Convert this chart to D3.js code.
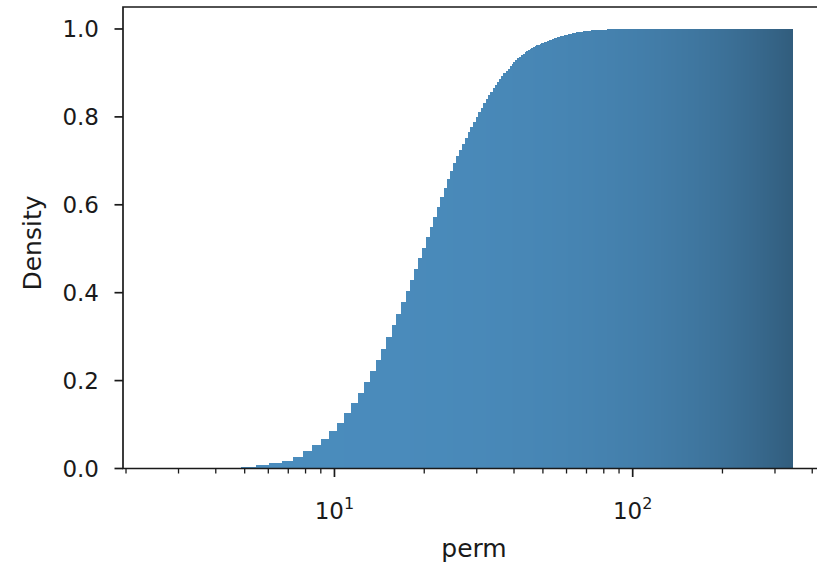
<!DOCTYPE html>
<html>
<head>
<meta charset="utf-8">
<script src="https://cdn.jsdelivr.net/npm/d3@7"></script>
<style>
  body { margin: 0; background: #fff; }
  svg { display: block; font-family: "DejaVu Sans", sans-serif; }
</style>
</head>
<body>
<div id="chart"></div>
<script>
// histogram bins: equal linear width, drawn on a log axis
const binStart = 2.5;
const binWidth = 0.5926;
const binCount = 578;

// cumulative density of the first bins
const densities = [
  0.0001, 0.0003, 0.0005, 0.001, 0.004, 0.008, 0.013, 0.018, 0.026, 0.039,
  0.053, 0.068, 0.086, 0.104, 0.126, 0.149, 0.172, 0.196, 0.221, 0.247,
  0.273, 0.299, 0.326, 0.352, 0.378, 0.404, 0.429, 0.454, 0.478, 0.502,
  0.526, 0.550, 0.573, 0.596, 0.618, 0.639, 0.659, 0.677, 0.694, 0.710,
  0.725, 0.739, 0.752, 0.765, 0.777, 0.789, 0.800, 0.811, 0.821, 0.831,
  0.840, 0.849, 0.857, 0.865, 0.873, 0.880, 0.887, 0.893, 0.899, 0.905,
  0.910, 0.915, 0.920, 0.924, 0.929, 0.933, 0.937, 0.940, 0.944, 0.947,
  0.950, 0.952, 0.955, 0.957, 0.959, 0.961, 0.963, 0.964, 0.966, 0.967,
  0.969, 0.970, 0.971, 0.973, 0.974, 0.975, 0.977, 0.978, 0.979, 0.980,
  0.981, 0.982, 0.983, 0.984, 0.985, 0.986, 0.987, 0.987, 0.988, 0.989,
  0.989, 0.990, 0.990, 0.991, 0.991, 0.992, 0.992, 0.993, 0.993, 0.994,
  0.994, 0.995, 0.995, 0.995, 0.996, 0.996, 0.996, 0.996, 0.997, 0.997,
  0.997, 0.997, 0.997, 0.997, 0.997, 0.997, 0.998, 0.998, 0.998, 0.998,
  0.998, 0.998, 0.998, 0.998, 0.999, 0.999, 0.999, 0.999, 0.999, 0.999,
  0.999, 0.999,
];
// all later bins sit at the top
const tailDensity = 1.0;

const yTicks = [0, 0.2, 0.4, 0.6, 0.8, 1.0];
const xMajorTicks = [10, 100];
const xMinorTicks = [2, 3, 4, 5, 6, 7, 8, 9, 20, 30, 40, 50, 60, 70, 80, 90, 200, 300, 400];

const width = 817;
const height = 567;
const plotLeft = 123;
const plotRight = 825;
const plotTop = 7;
const plotBottom = 468.5;

const bins = d3.range(binCount).map(i => ({
  x0: binStart + i * binWidth,
  x1: binStart + (i + 1) * binWidth,
  y: i < densities.length ? densities[i] : tailDensity,
}));

// matplotlib style 5% margin in log space
const lo = Math.log10(bins[0].x0);
const hi = Math.log10(bins[bins.length - 1].x1);
const pad = (hi - lo) * 0.05;

const x = d3
  .scaleLog()
  .domain([Math.pow(10, lo - pad), Math.pow(10, hi + pad)])
  .range([plotLeft, plotRight]);

const y = d3.scaleLinear().domain([0, 1.05]).range([plotBottom, plotTop]);

const svg = d3
  .select("#chart")
  .append("svg")
  .attr("width", width)
  .attr("height", height);

// bars: thin bins get darker, like the black edges in the original
const face = d3.rgb(75, 141, 190);
const mix = d3.interpolateRgb(face, "#000");

svg
  .append("g")
  .attr("shape-rendering", "crispEdges")
  .selectAll("rect")
  .data(bins)
  .join("rect")
  .attr("x", d => x(d.x0))
  .attr("width", d => x(d.x1) - x(d.x0))
  .attr("y", d => y(d.y))
  .attr("height", d => y(0) - y(d.y))
  .attr("fill", d => mix(Math.min(0.4, 0.0765 / (x(d.x1) - x(d.x0)))));

// spines
const ink = "#1a1a1a";
svg
  .append("path")
  .attr("d", `M${plotRight},${plotTop}H${plotLeft}V${plotBottom}H${plotRight}`)
  .attr("fill", "none")
  .attr("stroke", ink)
  .attr("stroke-width", 1.7);

// y axis
const yAxis = svg.append("g");
yAxis
  .selectAll("line")
  .data(yTicks)
  .join("line")
  .attr("x1", plotLeft - 8.5)
  .attr("x2", plotLeft)
  .attr("y1", d => y(d))
  .attr("y2", d => y(d))
  .attr("stroke", ink)
  .attr("stroke-width", 1.7);
yAxis
  .selectAll("text")
  .data(yTicks)
  .join("text")
  .attr("x", 99)
  .attr("y", d => y(d))
  .attr("dy", "0.36em")
  .attr("text-anchor", "end")
  .style("font-size", "23px")
  .style("fill", ink)
  .text(d => d3.format(".1f")(d));

// x axis
const xAxis = svg.append("g");
xAxis
  .selectAll("line.minor")
  .data(xMinorTicks)
  .join("line")
  .attr("class", "minor")
  .attr("x1", d => x(d))
  .attr("x2", d => x(d))
  .attr("y1", plotBottom)
  .attr("y2", plotBottom + 5)
  .attr("stroke", ink)
  .attr("stroke-width", 1.3);
xAxis
  .selectAll("line.major")
  .data(xMajorTicks)
  .join("line")
  .attr("class", "major")
  .attr("x1", d => x(d))
  .attr("x2", d => x(d))
  .attr("y1", plotBottom)
  .attr("y2", plotBottom + 8.5)
  .attr("stroke", ink)
  .attr("stroke-width", 1.7);

const xLabels = xAxis
  .selectAll("text")
  .data(xMajorTicks)
  .join("text")
  .attr("x", d => x(d))
  .attr("y", 519)
  .attr("text-anchor", "middle")
  .style("font-size", "23px")
  .style("fill", ink);
xLabels.append("tspan").text("10");
xLabels
  .append("tspan")
  .attr("dy", -10)
  .style("font-size", "16px")
  .text(d => Math.round(Math.log10(d)));

// axis titles
svg
  .append("text")
  .attr("x", (plotLeft + plotRight) / 2)
  .attr("y", 557)
  .attr("text-anchor", "middle")
  .style("font-size", "25px")
  .style("fill", ink)
  .text("perm");

svg
  .append("text")
  .attr("transform", "translate(41,243) rotate(-90)")
  .attr("text-anchor", "middle")
  .style("font-size", "25px")
  .style("fill", ink)
  .text("Density");
</script>
</body>
</html>
